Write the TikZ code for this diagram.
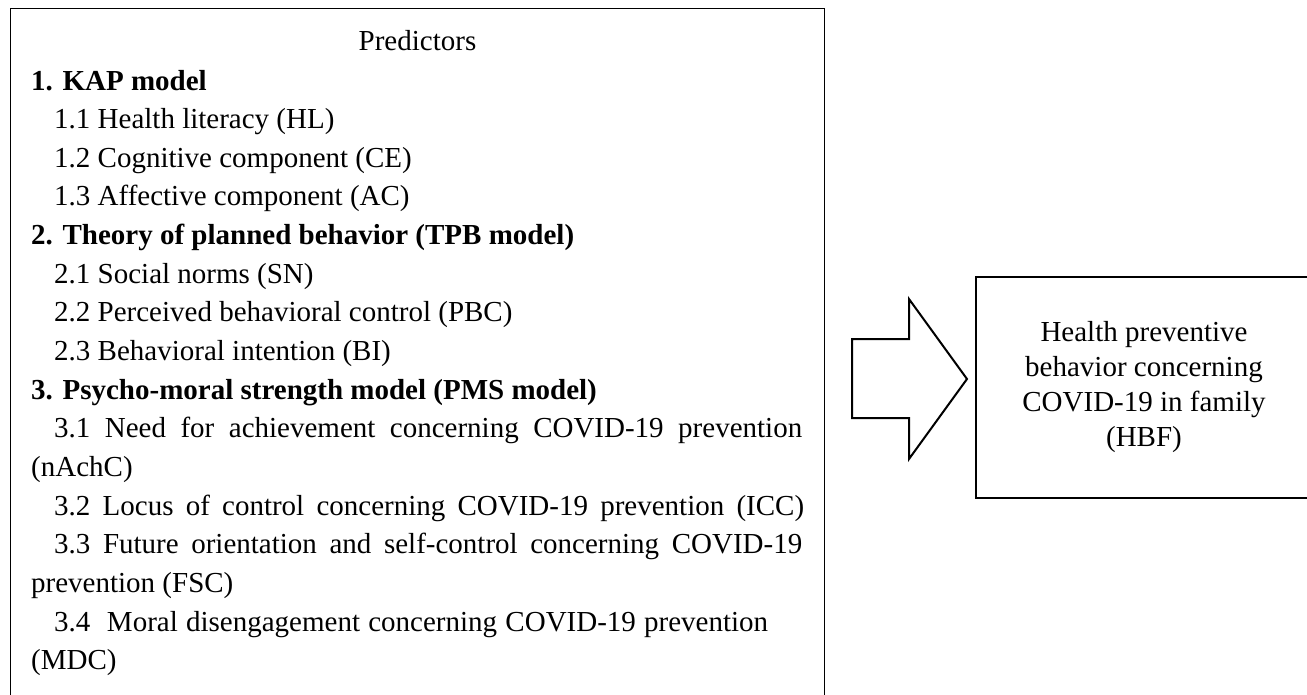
\documentclass[tikz,border=0pt]{standalone}
\usepackage{fontspec}
\setmainfont{Liberation Serif}
\begin{document}
\begin{tikzpicture}[x=1pt,y=-1pt,
  boxline/.style={draw=black,line width=1.2pt},
  txt/.style={anchor=base west,inner sep=0pt,font=\fontsize{29}{35}\selectfont},
  head/.style={txt,font=\fontsize{29}{35}\selectfont\bfseries},
  blockarrow/.style={draw=black,line width=2pt,line join=miter,fill=white}]
\useasboundingbox (0,0) rectangle (1307,694);
% left box
\node[boxline,anchor=north west,minimum width=814pt,minimum height=712pt,inner sep=0pt] (pred) at (10,8) {};
\node[anchor=base,inner sep=0pt,font=\fontsize{29}{35}\selectfont] (ttl) at (417.5,50.7) {Predictors};
\node[head] (l1)  at (31,90)     {1. KAP model};
\node[txt]  (l2)  at (54,128.65) {1.1 Health literacy (HL)};
\node[txt]  (l3)  at (54,167.3)  {1.2 Cognitive component (CE)};
\node[txt]  (l4)  at (54,205.95) {1.3 Affective component (AC)};
\node[head] (l5)  at (31,244.6)  {2. Theory of planned behavior (TPB model)};
\node[txt]  (l6)  at (54,283.25) {2.1 Social norms (SN)};
\node[txt]  (l7)  at (54,321.9)  {2.2 Perceived behavioral control (PBC)};
\node[txt]  (l8)  at (54,360.55) {2.3 Behavioral intention (BI)};
\node[head] (l9)  at (31,399.2)  {3. Psycho-moral strength model (PMS model)};
\node[txt]  (l10) at (54,437.85) {\makebox[748pt][s]{3.1 Need for achievement concerning COVID-19 prevention}};
\node[txt]  (l11) at (31,476.5)  {(nAchC)};
\node[txt]  (l12) at (54,515.15) {\makebox[750pt][s]{3.2 Locus of control concerning COVID-19 prevention (ICC)}};
\node[txt]  (l13) at (54,553.8)  {\makebox[748pt][s]{3.3 Future orientation and self-control concerning COVID-19}};
\node[txt]  (l14) at (31,592.45) {prevention (FSC)};
\node[txt]  (l15) at (54,631.1)  {\makebox[714pt][s]{3.4\ \ Moral disengagement concerning COVID-19 prevention}};
\node[txt]  (l16) at (31,669.75) {(MDC)};
% right box
\node[boxline,minimum width=336pt,minimum height=221pt,inner sep=0pt,align=center,
  font=\fontsize{29}{35}\selectfont] (hbf) at (1144,387.5)
  {Health preventive\\behavior concerning\\COVID-19 in family\\(HBF)};
% block arrow
\draw[blockarrow] (852,339) -- (909,339) -- (909,299) -- (967,379) -- (909,459) -- (909,418) -- (852,418) -- cycle;
\end{tikzpicture}
\end{document}
